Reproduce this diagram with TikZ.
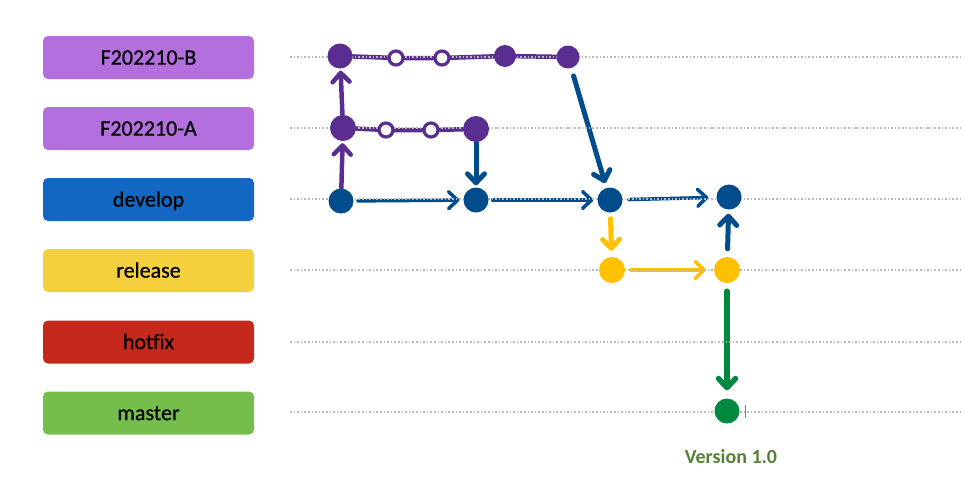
\documentclass[tikz,border=0pt]{standalone}
\usepackage{fontspec}
\setmainfont{Carlito}
\newfontfamily\labfont{Carlito}[FakeBold=0.7]
\usetikzlibrary{arrows.meta}
\definecolor{labpurple}{HTML}{B36FDE}
\definecolor{labblue}{HTML}{1167C1}
\definecolor{labyellow}{HTML}{F4D03F}
\definecolor{labred}{HTML}{C5291B}
\definecolor{labgreen}{HTML}{76BE4C}
\definecolor{cpurple}{HTML}{5A2D91}
\definecolor{cblue}{HTML}{004C8C}
\definecolor{cyellow}{HTML}{FFC000}
\definecolor{cgreen}{HTML}{00893E}
\definecolor{vgreen}{HTML}{548235}
\pgfdeclarelayer{background}
\pgfsetlayers{background,main}
\begin{document}
\begin{tikzpicture}[x=1pt,y=-1pt,
  lab/.style={rounded corners=5pt, minimum width=211pt, minimum height=43pt,
    font=\labfont\fontsize{22}{26}\selectfont, text=black, inner sep=0pt,
    text height=14.2pt, text depth=0pt},
  lane/.style={draw=gray!55, line width=1.6pt, dash pattern=on 1.6pt off 2pt},
  cdot/.style={circle, inner sep=0pt, minimum size=25pt},
  ring/.style={circle, draw=cpurple, line width=3.2pt, fill=white, minimum size=14pt, inner sep=0pt},
  arr/.style={-{Straight Barb[length=9pt,width=17pt,line cap=round,line join=round]}, line cap=round},
]
\useasboundingbox (0,0) rectangle (964,491);

% branch labels
\node[lab, fill=labpurple] (lB) at (148.5,57.5) {F202210-B};
\node[lab, fill=labpurple] (lA) at (148.5,128.5) {F202210-A};
\node[lab, fill=labblue]   (lD) at (148.5,199.5) {develop};
\node[lab, fill=labyellow] (lR) at (148.5,270.5) {release};
\node[lab, fill=labred]    (lH) at (148.5,342) {hotfix};
\node[lab, fill=labgreen]  (lM) at (148.5,413) {master};

% lanes
\coordinate (eB0) at (290,57);  \coordinate (eB1) at (960,57);
\coordinate (eA0) at (290,128); \coordinate (eA1) at (960,128);
\coordinate (eD0) at (290,199); \coordinate (eD1) at (960,199);
\coordinate (eR0) at (290,270); \coordinate (eR1) at (960,270);
\coordinate (eH0) at (290,342); \coordinate (eH1) at (960,342);
\coordinate (eM0) at (290,412); \coordinate (eM1) at (960,412);
\foreach \r in {B,A,D,R,H,M} \draw[lane] (e\r0) -- (e\r1);

% commits
\node[cdot, fill=cpurple] (b1) at (340,56) {};
\node[ring] (r1) at (396,58) {};
\node[ring] (r2) at (442,58) {};
\node[cdot, fill=cpurple, minimum size=22pt] (b2) at (505,56) {};
\node[cdot, fill=cpurple, minimum size=23pt] (b3) at (568,57) {};

\node[cdot, fill=cpurple, minimum size=26pt] (a1) at (343,128) {};
\node[ring] (r3) at (386,130) {};
\node[ring] (r4) at (431,130) {};
\node[cdot, fill=cpurple, minimum size=26pt] (a2) at (476,129) {};

\node[cdot, fill=cblue] (d1) at (341,201) {};
\node[cdot, fill=cblue] (d2) at (476,200) {};
\node[cdot, fill=cblue] (d3) at (610,200) {};
\node[cdot, fill=cblue] (d4) at (729,197) {};

\node[cdot, fill=cyellow, minimum size=26pt] (y1) at (612,270) {};
\node[cdot, fill=cyellow, minimum size=26pt] (y2) at (727,270) {};

\node[cdot, fill=cgreen, minimum size=25pt] (m1) at (727,411) {};

\node[font=\fontsize{20}{24}\selectfont\bfseries, text=vgreen] (ver) at (731,457) {Version 1.0};
\coordinate (tk0) at (745,405); \coordinate (tk1) at (745,418);
\draw[gray, line width=0.8pt] (tk0) -- (tk1);

% connectors
\begin{pgfonlayer}{background}
\draw[cpurple, line width=4.5pt, line cap=round] (b1) -- (r1) -- (r2) -- (b2) -- (b3);
\draw[cpurple, line width=4.5pt, line cap=round] (a1) -- (r3) -- (r4) -- (a2);
\draw[arr, cpurple, line width=4.5pt, shorten >=2pt] (d1) -- (a1);
\draw[arr, cpurple, line width=4.5pt, shorten >=2pt] (a1) -- (b1);
\draw[arr, cblue, line width=3.5pt, shorten <=4pt, shorten >=4pt] (d1) -- (d2);
\draw[arr, cblue, line width=3.5pt, shorten <=4pt, shorten >=4pt] (d2) -- (d3);
\draw[arr, cblue, line width=3.5pt, shorten <=6pt, shorten >=8pt] (d3) -- (d4);
\draw[arr, cblue, line width=5pt, shorten >=2pt] (a2) -- (d2);
\draw[arr, cblue, line width=5pt, shorten <=8pt, shorten >=5pt] (b3) -- (d3);
\draw[arr, cyellow, line width=5pt, shorten <=6pt, shorten >=6pt] (d3) -- (y1);
\draw[arr, cyellow, line width=3.5pt, shorten <=6pt, shorten >=8pt] (y1) -- (y2);
\draw[arr, cblue, line width=5pt, shorten <=8pt, shorten >=4pt] (y2) -- (d4);
\draw[arr, cgreen, line width=5.5pt, shorten <=8pt, shorten >=8pt] (y2) -- (m1);
\end{pgfonlayer}
\end{tikzpicture}
\end{document}
